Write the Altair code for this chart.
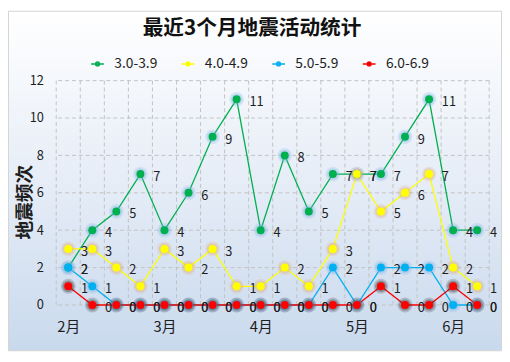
import altair as alt
import pandas as pd

# ---------------- data ----------------
slots = list(range(18))
month_ticks = [0, 4, 8, 12, 16]
month_labels = ["2月", "3月", "4月", "5月", "6月"]
series_names = ["3.0-3.9", "4.0-4.9", "5.0-5.9", "6.0-6.9"]
m3 = [2, 4, 5, 7, 4, 6, 9, 11, 4, 8, 5, 7, 7, 7, 9, 11, 4, 4]
m4 = [3, 3, 2, 1, 3, 2, 3, 1, 1, 2, 1, 3, 7, 5, 6, 7, 2, 1]
m5 = [2, 1, 0, 0, 0, 0, 0, 0, 0, 0, 0, 2, 0, 2, 2, 2, 0, 0]
m6 = [1, 0, 0, 0, 0, 0, 0, 0, 0, 0, 0, 0, 0, 1, 0, 0, 1, 0]
series_values = [m3, m4, m5, m6]
y_ticks = [0, 2, 4, 6, 8, 10, 12]

line_colors = ["#00b050", "#ffff00", "#00b0f0", "#ff0000"]
glow_colors = ["#7fb2e5", "#e0a878", "#7fb2e5", "#2a2a2a"]

rows = []
for name, vals in zip(series_names, series_values):
    for s, v in zip(slots, vals):
        rows.append({"slot": s, "count": v, "series": name})
df = pd.DataFrame(rows)
vbounds = pd.DataFrame({"b": [s - 0.5 for s in slots] + [slots[-1] + 0.5]})
hbounds = pd.DataFrame({"t": y_ticks})

# ---------------- layout ----------------
W, H = 440, 228
PL, PT, PR, PB = 49, 71, 13, 47
FONT = "Noto Sans CJK SC"
TXT = "#1e1e1e"
GRID = "#c2c2c2"

lab = [""] * len(slots)
for t, l in zip(month_ticks, month_labels):
    lab[t] = l
label_expr = "[" + ",".join("'" + x + "'" for x in lab) + "][datum.value]"

xscale = alt.Scale(domain=[slots[0] - 0.5, slots[-1] + 0.5], nice=False, zero=False)
yscale = alt.Scale(domain=[y_ticks[0], y_ticks[-1]], nice=False)
xaxis = alt.Axis(values=month_ticks, labelExpr=label_expr, grid=False, domain=False,
                 ticks=False, labelFontSize=15, labelFont=FONT, labelPadding=15,
                 labelColor=TXT, title=None, zindex=1)
yaxis = alt.Axis(values=y_ticks, grid=False,
                 domain=False, ticks=False, labelFontSize=13, labelFont=FONT,
                 labelPadding=13, labelColor=TXT, title="地震频次", titleFont=FONT,
                 titleFontSize=19, titleFontWeight="bold", titleColor=TXT,
                 titleX=-32, titleY=123, titleAngle=270, titleAlign="center",
                 titleBaseline="middle", zindex=1)
X = alt.X("slot:Q", scale=xscale, axis=xaxis)
Y = alt.Y("count:Q", scale=yscale, axis=yaxis)

legend_symbol = ("M-0.5,0H0.5M-0.148,0A0.148,0.148 0 1,0 0.148,0"
                 "A0.148,0.148 0 1,0 -0.148,0Z")
leg = alt.Legend(title=None, orient="none", legendX=28, legendY=-31,
                 direction="horizontal", symbolType=legend_symbol, symbolSize=676,
                 symbolStrokeWidth=1.5, labelFontSize=14, labelFont=FONT,
                 labelColor=TXT, labelOffset=3, columnPadding=17, padding=0,
                 symbolOpacity=1)

bg = alt.Chart(alt.Data(values=[{}])).mark_rect(
    fill=alt.Gradient(gradient="linear",
                      stops=[alt.GradientStop(color="#ffffff", offset=0),
                             alt.GradientStop(color="#e6edf7", offset=0.5),
                             alt.GradientStop(color="#c9d9ed", offset=1)],
                      x1=0, x2=0, y1=0, y2=1),
    stroke="#d4d4d4", strokeWidth=1,
).encode(x=alt.value(-PL + 0.5), x2=alt.value(W + PR - 0.5),
         y=alt.value(-PT + 0.5), y2=alt.value(H + PB - 0.5))

vgrid = alt.Chart(vbounds).mark_rule(color=GRID, strokeDash=[4, 3], strokeWidth=1).encode(
    x=alt.X("b:Q", scale=xscale, axis=xaxis))
hgrid = alt.Chart(hbounds).mark_rule(color=GRID, strokeDash=[4, 3], strokeWidth=1).encode(
    y=alt.Y("t:Q", scale=yscale, axis=yaxis))

lines = alt.Chart(df).mark_line(strokeWidth=1.3).encode(
    x=X, y=Y,
    stroke=alt.Stroke("series:N", scale=alt.Scale(domain=series_names, range=line_colors), legend=leg),
)

glow = alt.Chart(df).mark_circle(size=230, opacity=0.2).encode(
    x=X, y=Y,
    fill=alt.Fill("series:N", scale=alt.Scale(domain=series_names, range=glow_colors), legend=None),
)
glow2 = alt.Chart(df).mark_circle(size=140, opacity=0.3).encode(
    x=X, y=Y,
    fill=alt.Fill("series:N", scale=alt.Scale(domain=series_names, range=glow_colors), legend=None),
)

points = alt.Chart(df).mark_circle(size=66, opacity=1).encode(
    x=X, y=Y,
    color=alt.Color("series:N", scale=alt.Scale(domain=series_names, range=line_colors), legend=leg),
)

labels = alt.Chart(df).mark_text(align="left", baseline="middle", dx=13, dy=3,
                                 fontSize=13, font=FONT, color=TXT).encode(
    x=X, y=Y, text="count:Q")

chart = alt.layer(bg, vgrid, hgrid, lines, glow, glow2, points, labels).properties(
    width=W, height=H,
    padding={"left": PL, "top": PT, "right": PR, "bottom": PB},
    autosize=alt.AutoSizeParams(type="none"),
    title=alt.TitleParams(text="最近3个月地震活动统计", font=FONT, fontSize=21,
                          fontWeight="bold", color="#111111", anchor="middle",
                          dx=-21, dy=29, offset=0, zindex=1),
).configure_view(stroke=None).configure_axisY(
    titleFontSize=19, titleFontWeight="bold", titleFont=FONT,
)

chart.save("out.html", embed_options={"renderer": "svg", "actions": False})
